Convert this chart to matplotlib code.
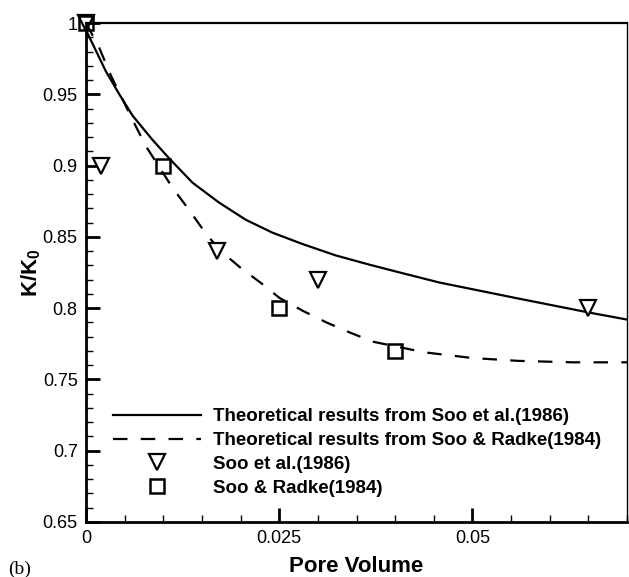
import numpy as np
import matplotlib
matplotlib.use('Agg')
import matplotlib.pyplot as plt
from matplotlib.ticker import MultipleLocator, FixedLocator, FixedFormatter

plt.rcParams['font.family'] = ['Liberation Sans', 'DejaVu Sans']
plt.rcParams['mathtext.fontset'] = 'custom'
plt.rcParams['mathtext.rm'] = 'Liberation Sans'
plt.rcParams['mathtext.bf'] = 'Liberation Sans:bold'

# theoretical curves
soo86_x = [0, 0.00258, 0.00431, 0.00603, 0.00861, 0.01077, 0.01378, 0.01723, 0.02067,
           0.0241, 0.028, 0.0323, 0.0366, 0.0406, 0.0457, 0.0557, 0.065, 0.07]
soo86_y = [0.995, 0.966, 0.950, 0.935, 0.918, 0.905, 0.888, 0.874, 0.862,
           0.853, 0.845, 0.837, 0.8306, 0.825, 0.818, 0.807, 0.797, 0.792]

radke_x = [0, 0.00172, 0.00323, 0.00603, 0.00775, 0.0112, 0.01313, 0.01529, 0.01723,
           0.02, 0.0226, 0.025, 0.0281, 0.0311, 0.0341, 0.0371, 0.0438, 0.05, 0.056,
           0.063, 0.07]
radke_y = [1.0, 0.9825, 0.963, 0.932, 0.9136, 0.8844, 0.8704, 0.854, 0.841,
           0.8283, 0.8178, 0.8073, 0.798, 0.790, 0.783, 0.7765, 0.769, 0.765, 0.763,
           0.762, 0.762]

# experimental points
exp86_x = [0, 0.002, 0.017, 0.030, 0.065]
exp86_y = [1.0, 0.90, 0.84, 0.82, 0.80]
exp84_x = [0, 0.010, 0.025, 0.040]
exp84_y = [1.0, 0.90, 0.80, 0.77]

labels = ['Theoretical results from Soo et al.(1986)',
          'Theoretical results from Soo & Radke(1984)',
          'Soo et al.(1986)',
          'Soo & Radke(1984)']

yticks = [0.65, 0.7, 0.75, 0.8, 0.85, 0.9, 0.95, 1.0]
ytick_labels = ['0.65', '0.7', '0.75', '0.8', '0.85', '0.9', '0.95', '1']
xticks = [0, 0.025, 0.05]
xtick_labels = ['0', '0.025', '0.05']

fig = plt.figure(figsize=(6.29, 5.77), dpi=100)
ax = fig.add_axes([86 / 629, 55 / 577, 541 / 629, 499 / 577])

ax.plot(soo86_x, soo86_y, '-', color='black', lw=1.6, label=labels[0])
ax.plot(radke_x, radke_y, color='black', lw=1.6, linestyle=(0, (6.5, 6)), label=labels[1])
ax.plot(exp86_x, exp86_y, 'v', ms=11, mfc='white', mec='black', mew=1.6,
        label=labels[2], clip_on=False)
ax.plot(exp84_x, exp84_y, 's', ms=10, mfc='none', mec='black', mew=1.8,
        label=labels[3], clip_on=False)

ax.set_xlim(0, 0.07)
ax.set_ylim(0.65, 1.0)

ax.xaxis.set_major_locator(FixedLocator(xticks))
ax.xaxis.set_major_formatter(FixedFormatter(xtick_labels))
ax.xaxis.set_minor_locator(MultipleLocator(0.005))
ax.yaxis.set_major_locator(FixedLocator(yticks))
ax.yaxis.set_major_formatter(FixedFormatter(ytick_labels))
ax.yaxis.set_minor_locator(MultipleLocator(0.01))

ax.tick_params(which='major', direction='in', length=10, width=2, top=False, right=False,
               labelsize=13, pad=6)
ax.tick_params(which='minor', direction='in', length=5, width=1, top=False, right=False)

ax.spines['left'].set_linewidth(2)
ax.spines['bottom'].set_linewidth(2)
ax.spines['top'].set_linewidth(1.6)
ax.spines['right'].set_linewidth(1.0)

ax.set_xlabel('Pore Volume', fontsize=16, fontweight='bold', labelpad=6)
ax.set_ylabel(r'$\mathbf{K/K_0}$', fontsize=16, labelpad=0)

ax.legend(loc='lower left', bbox_to_anchor=(0.05, 0.051), frameon=False,
          prop={'weight': 'bold', 'size': 13.5}, handlelength=4.7, handletextpad=0.64,
          labelspacing=0.35, borderpad=0, borderaxespad=0)

fig.text(8 / 629, 8 / 577, '(b)', fontsize=14, family='Liberation Serif', va='center')

fig.savefig('out.png', dpi=100)
